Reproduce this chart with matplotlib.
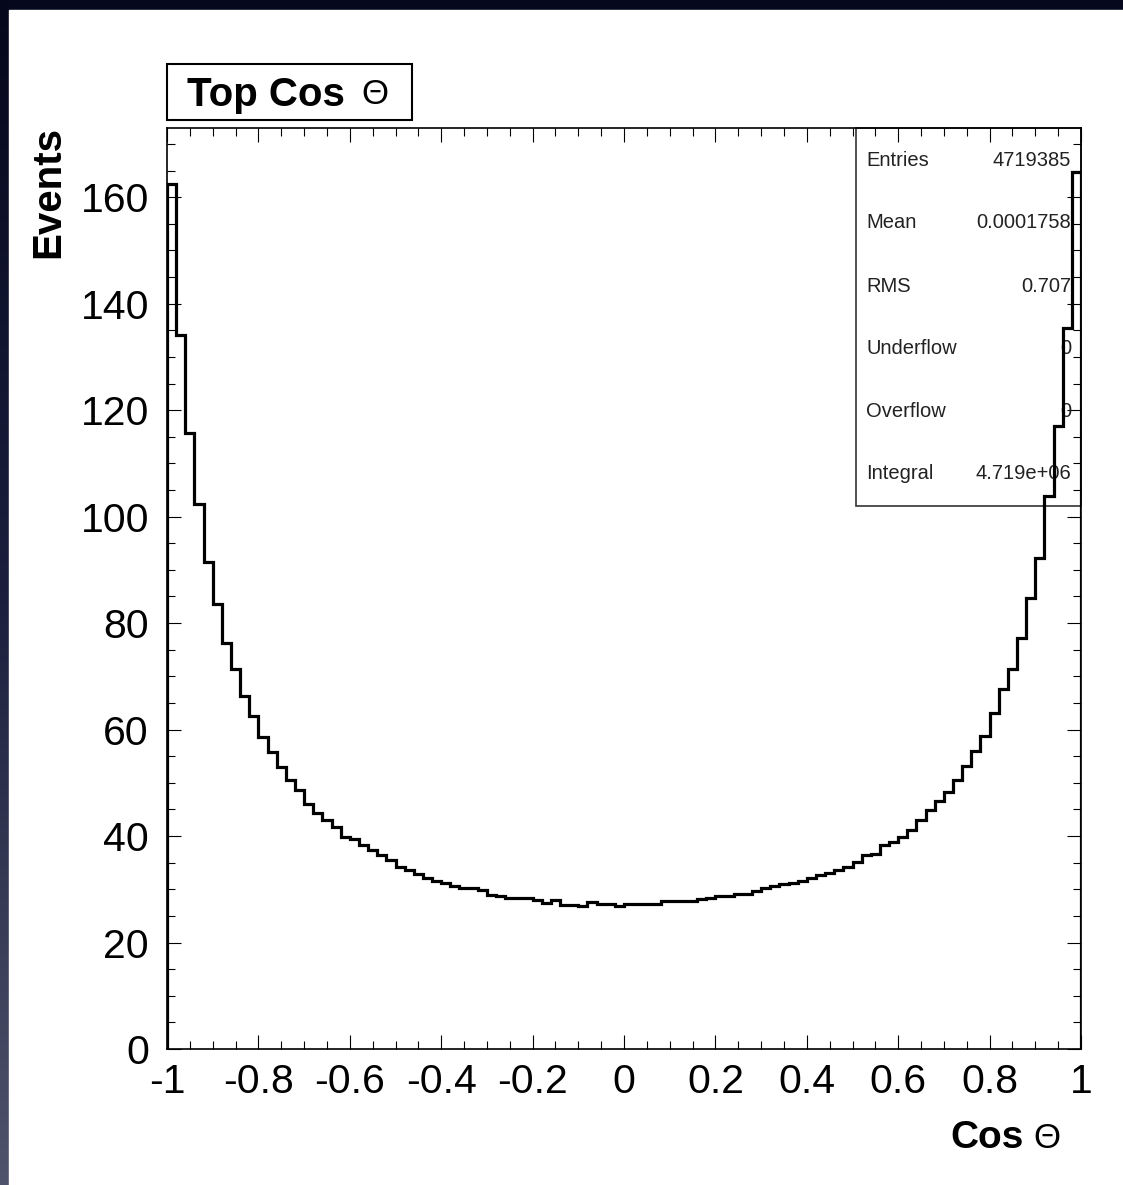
import numpy as np
import matplotlib
matplotlib.use('Agg')
import matplotlib.pyplot as plt
from matplotlib.patches import Rectangle
from matplotlib.ticker import MultipleLocator, FuncFormatter
from matplotlib.colors import LinearSegmentedColormap

plt.rcParams['font.family'] = ['Liberation Sans', 'DejaVu Sans']
plt.rcParams['axes.unicode_minus'] = False

# top cos(theta) histogram: 100 bins of width 0.02 between -1 and 1
x_lo, x_hi = -1.0, 1.0
counts = [162.5, 134.2, 115.8, 102.3, 91.4, 83.6, 76.2, 71.3, 66.4, 62.5,
          58.6, 55.8, 53.0, 50.5, 48.6, 46.1, 44.3, 43.0, 41.7, 39.9,
          39.4, 38.3, 37.4, 36.4, 35.5, 34.2, 33.6, 32.9, 32.2, 31.6,
          31.2, 30.6, 30.2, 30.2, 29.9, 29.0, 28.8, 28.3, 28.3, 28.3,
          27.9, 27.5, 28.0, 27.1, 27.1, 26.8, 27.7, 27.2, 27.2, 26.8,
          27.2, 27.2, 27.2, 27.2, 27.8, 27.8, 27.8, 27.8, 28.2, 28.3,
          28.7, 28.7, 29.2, 29.2, 29.7, 30.2, 30.7, 30.9, 31.2, 31.5,
          32.1, 32.6, 33.1, 33.6, 34.2, 35.2, 36.4, 36.6, 38.3, 38.9,
          39.9, 41.1, 43.0, 44.8, 46.6, 48.3, 50.6, 53.2, 56.0, 58.8,
          63.2, 67.6, 71.3, 77.2, 84.8, 92.3, 103.8, 117.0, 135.5, 164.7]

stat_names = ["Entries", "Mean", "RMS", "Underflow", "Overflow", "Integral"]
stat_values = ["4719385", "0.0001758", "0.707", "0", "0", "4.719e+06"]

W, H = 1123, 1185

def fx(px):
    return px / W

def fy(py):
    return 1 - py / H

fig = plt.figure(figsize=(W / 100, H / 100), dpi=100)
fig.patch.set_facecolor('#06081d')

# dark frame with a lighter strip down the left edge, white pad inside
bg = fig.add_axes([0, 0, 1, 1], zorder=-10)
bg.set_xlim(0, W)
bg.set_ylim(H, 0)
bg.axis('off')
cmap = LinearSegmentedColormap.from_list('edge', ['#05071c', '#1b1f3d', '#4f536b'])
grad = np.linspace(0, 1, 256)[:, None]
bg.imshow(grad, extent=[0, 9, H, 0], cmap=cmap, aspect='auto')
bg.add_patch(Rectangle((9, 10), W - 9, H - 10, color='white'))

ax = fig.add_axes([fx(167), fy(1049), fx(1081) - fx(167), (1049 - 128) / H])
edges = np.linspace(x_lo, x_hi, len(counts) + 1)
ax.stairs(counts, edges, color='black', lw=2.3, zorder=3)
ax.set_xlim(x_lo, x_hi)
ax.set_ylim(0, 173)

ax.xaxis.set_major_locator(MultipleLocator(0.2))
ax.xaxis.set_minor_locator(MultipleLocator(0.05))
ax.yaxis.set_major_locator(MultipleLocator(20))
ax.yaxis.set_minor_locator(MultipleLocator(5))
fmt = FuncFormatter(lambda v, pos: '%g' % (0 if abs(v) < 1e-9 else round(v, 2)))
ax.xaxis.set_major_formatter(fmt)
ax.yaxis.set_major_formatter(fmt)
ax.tick_params(which='both', direction='in', top=True, right=True, width=0.8,
               labelsize=29.5)
ax.tick_params(which='major', length=10)
ax.tick_params(which='minor', length=5.5)
ax.tick_params(axis='x', pad=10)
ax.tick_params(axis='y', pad=13)
for sp in ax.spines.values():
    sp.set_linewidth(1.2)

# statistics box, histogram line runs over it
ax.add_patch(Rectangle((fx(856), fy(506)), fx(1081) - fx(856), (506 - 128) / H,
                       transform=fig.transFigure, fill=False, ec='#333333',
                       lw=1.2, clip_on=False, zorder=1))
rows_y = [160, 222, 286, 348, 412, 473]
for name, val, yy in zip(stat_names, stat_values, rows_y):
    ax.text(fx(866), fy(yy), name, transform=fig.transFigure, fontsize=14.5,
            color='#222222', ha='left', va='center', zorder=2)
    ax.text(fx(1071), fy(yy), val, transform=fig.transFigure, fontsize=14.5,
            color='#222222', ha='right', va='center', zorder=2)

# title pave
fig.patches.append(Rectangle((fx(167), fy(120)), fx(412) - fx(167), (120 - 64) / H,
                             transform=fig.transFigure, fc='white', ec='black',
                             lw=1.5))
fig.text(fx(187), fy(95), "Top Cos", fontsize=29, fontweight='bold',
         ha='left', va='center')
fig.text(fx(361), fy(95), "\u0398", fontsize=25, ha='left', va='center')

# axis titles
fig.text(fx(48), fy(126), "Events", fontsize=29, fontweight='bold',
         rotation=90, ha='center', va='top')
fig.text(fx(950), fy(1138), "Cos", fontsize=28, fontweight='bold',
         ha='left', va='center')
fig.text(fx(1033), fy(1138), "\u0398", fontsize=25, ha='left', va='center')

fig.savefig('out.png', dpi=100, facecolor=fig.get_facecolor())
